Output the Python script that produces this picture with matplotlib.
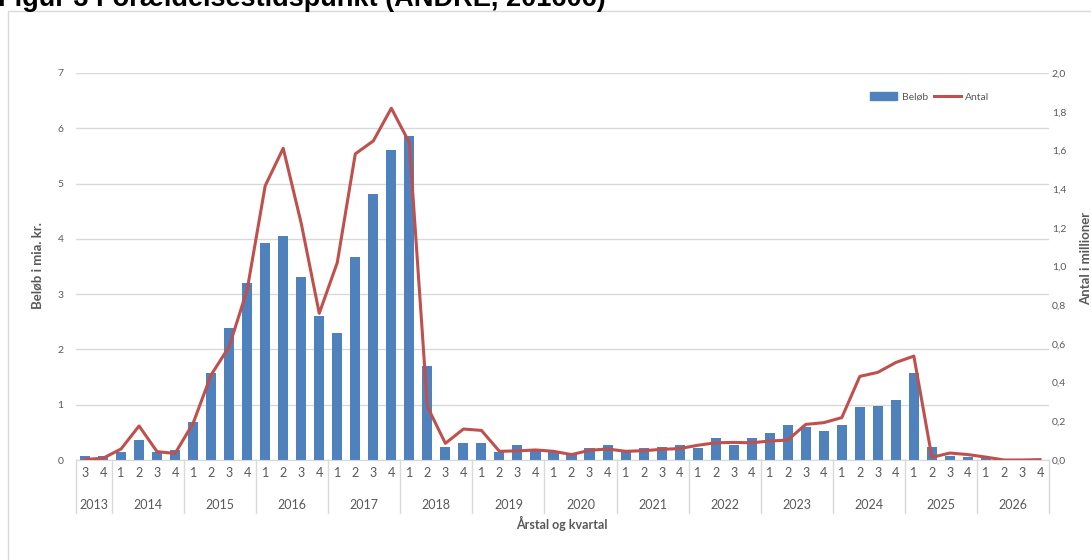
import matplotlib
matplotlib.use("Agg")
import matplotlib.pyplot as plt
import matplotlib.transforms as mtransforms
from matplotlib.patches import Rectangle, Patch
from matplotlib.lines import Line2D
import numpy as np

plt.rcParams['font.family'] = ['Lato', 'DejaVu Sans']

# data: quarters 2013Q3 .. 2026Q4
years = ['2013'] + [str(y) for y in range(2014, 2027)]
quarters = ['3', '4'] + ['1', '2', '3', '4'] * 13

belob = [0.07, 0.08,
         0.15, 0.36, 0.15, 0.18,
         0.69, 1.57, 2.38, 3.20,
         3.92, 4.05, 3.31, 2.61,
         2.30, 3.67, 4.82, 5.60,
         5.86, 1.70, 0.235, 0.31,
         0.30, 0.145, 0.27, 0.19,
         0.17, 0.11, 0.22, 0.27,
         0.15, 0.22, 0.23, 0.27,
         0.22, 0.39, 0.27, 0.39,
         0.49, 0.63, 0.60, 0.53,
         0.63, 0.96, 0.98, 1.08,
         1.57, 0.24, 0.07, 0.06,
         0.03, 0.0, 0.0, 0.0]

antal = [0.003, 0.009,
         0.057, 0.176, 0.043, 0.034,
         0.19, 0.44, 0.586, 0.88,
         1.417, 1.611, 1.223, 0.758,
         1.02, 1.582, 1.649, 1.818,
         1.64, 0.276, 0.086, 0.160,
         0.153, 0.045, 0.047, 0.052,
         0.045, 0.028, 0.050, 0.057,
         0.045, 0.048, 0.055, 0.059,
         0.076, 0.089, 0.091, 0.089,
         0.098, 0.103, 0.184, 0.193,
         0.219, 0.432, 0.453, 0.504,
         0.537, 0.014, 0.036, 0.028,
         0.015, 0.0, 0.0, 0.002]

blue = '#4F81BD'
red = '#C0504D'
grey = '#595959'
gridc = '#D9D9D9'

fig = plt.figure(figsize=(10.91, 5.60), dpi=100)
W, H = 1091, 560

# chart frame (left/top visible)
fig.patches.append(Rectangle((8 / W, -0.1), 1.2, 1 - 11 / H + 0.1, transform=fig.transFigure,
                             fill=False, edgecolor='#D9D9D9', lw=1))
# title, clipped at the top edge as in the source image
fig.text(-0.002, 1 - 6 / H, 'Figur 3 Forældelsestidspunkt (ANDRE, 201606)', fontsize=19.5,
         fontweight='bold', family='Liberation Sans', va='baseline', ha='left', color='black')

ax = fig.add_axes([76 / W, 1 - 460 / H, 973 / W, 387 / H])
x = np.arange(len(belob))
ax.bar(x, belob, width=0.56, color=blue, zorder=2)
ax.set_xlim(-0.5, len(belob) - 0.5)
ax.set_ylim(0, 7)
ax.set_yticks(range(0, 8))
ax.grid(axis='y', color=gridc, lw=1, zorder=0)
ax.set_axisbelow(True)
for s in ['top', 'right', 'left']:
    ax.spines[s].set_visible(False)
ax.spines['bottom'].set_color(gridc)
ax.tick_params(axis='y', length=0, labelsize=7.5, labelcolor=grey, pad=9)
ax.set_xticks(x)
ax.set_xticklabels(quarters)
ax.tick_params(axis='x', length=0, labelsize=9, labelcolor=grey, pad=5)

ax2 = ax.twinx()
ax2.plot(x, antal, color=red, lw=2.2, zorder=3)
ax2.set_ylim(0, 2)
ax2.set_yticks(np.arange(0, 2.01, 0.2))
ax2.set_yticklabels([f'{v:.1f}'.replace('.', ',') for v in np.arange(0, 2.01, 0.2)])
for s in ['top', 'right', 'left', 'bottom']:
    ax2.spines[s].set_visible(False)
ax2.tick_params(axis='y', length=0, labelsize=7.5, labelcolor=grey, pad=2)

# year labels and separators
trans = mtransforms.blended_transform_factory(ax.transData, ax.transAxes)
starts = [0] + list(range(2, len(belob), 4))
bounds = starts + [len(belob)]
for b in bounds:
    ax.plot([b - 0.5, b - 0.5], [0, -53 / 387], transform=trans, color=gridc, lw=1, clip_on=False)
for i, yr in enumerate(years):
    mid = (bounds[i] + bounds[i + 1] - 1) / 2
    ax.text(mid, -45 / 387, yr, transform=trans, ha='center', va='center', fontsize=9, color=grey)

fig.text(562 / W, 1 - 523 / H, 'Årstal og kvartal', ha='center', va='center', fontsize=9,
         fontweight='bold', color=grey)
fig.text(37 / W, 1 - 266 / H, 'Beløb i mia. kr.', ha='center', va='center', rotation=90,
         fontsize=9.5, fontweight='bold', color=grey)
fig.text(1086 / W, 1 - 258 / H, 'Antal i millioner', ha='center', va='center', rotation=90,
         fontsize=9.5, fontweight='bold', color=grey)

handles = [Patch(color=blue), Line2D([0], [0], color=red, lw=2.2)]
ax.legend(handles, ['Beløb', 'Antal'], loc='center', bbox_to_anchor=(930 / W, 1 - 97 / H),
          bbox_transform=fig.transFigure, ncol=2, frameon=False, fontsize=7.5,
          handlelength=2.6, handleheight=0.7, columnspacing=0.6, handletextpad=0.4,
          labelcolor=grey)

fig.savefig('out.png', dpi=100)
